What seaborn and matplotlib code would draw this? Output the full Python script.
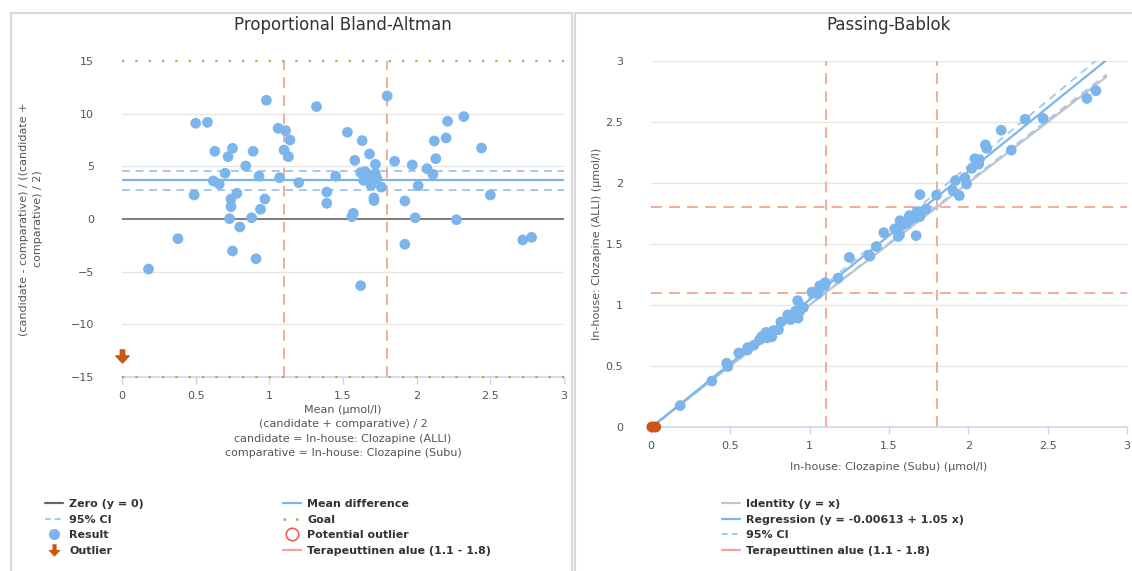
import matplotlib.pyplot as plt
import matplotlib.lines as mlines
import matplotlib.ticker as ticker
from matplotlib.patches import Rectangle
from matplotlib.path import Path
import numpy as np
import pandas as pd
import seaborn as sns

sns.set_theme(style="white")
plt.rcParams["font.family"] = ["DejaVu Sans"]

# %% data
# Bland-Altman: mean of the two methods (umol/l) and proportional difference (%)
ba_mean = [0.18, 0.38, 0.49, 0.50, 0.58, 0.62, 0.63, 0.66, 0.70, 0.72, 0.73, 0.74,
           0.74, 0.75, 0.75, 0.78, 0.80, 0.84, 0.88, 0.89, 0.91, 0.93, 0.94, 0.97,
           0.98, 1.06, 1.07, 1.10, 1.11, 1.13, 1.14, 1.20, 1.32, 1.39, 1.39, 1.45,
           1.53, 1.56, 1.57, 1.58, 1.62, 1.62, 1.63, 1.64, 1.65, 1.67, 1.68, 1.69,
           1.71, 1.71, 1.72, 1.72, 1.73, 1.76, 1.80, 1.85, 1.92, 1.92, 1.97, 1.99,
           2.01, 2.07, 2.11, 2.12, 2.13, 2.20, 2.21, 2.27, 2.32, 2.44, 2.50, 2.72,
           2.78]
ba_diff = [-4.75, -1.87, 2.28, 9.09, 9.18, 3.61, 6.43, 3.32, 4.34, 5.92, 0.03, 1.17,
           1.90, 6.71, -3.04, 2.44, -0.76, 5.03, 0.12, 6.43, -3.77, 4.06, 0.92, 1.90,
           11.27, 8.61, 3.92, 6.55, 8.39, 5.92, 7.50, 3.45, 10.67, 2.56, 1.49, 4.06,
           8.23, 0.22, 0.54, 5.57, -6.33, 4.40, 7.44, 3.67, 4.50, 4.06, 6.17, 3.19,
           1.75, 2.00, 5.19, 4.30, 3.84, 3.03, 11.68, 5.48, 1.71, -2.40, 5.13, 0.12,
           3.16, 4.78, 4.24, 7.41, 5.73, 7.69, 9.28, -0.07, 9.72, 6.74, 2.28, -1.99,
           -1.74]

# outliers near zero concentration (off the Bland-Altman scale)
out_subu = [0.005, 0.02, 0.03]
out_alli = [0.0, 0.0, 0.0]

mean_diff = 3.74
mean_ci = [2.78, 4.60]
goal = [-15, 15]
ther_range = [1.1, 1.8]

# Passing-Bablok fit
reg_b0, reg_b1 = -0.00613, 1.05
ci_low = (-0.004, 1.008)
ci_high = (-0.012, 1.075)
line_x = [0.0, 2.87]

xticks = [0, 0.5, 1, 1.5, 2, 2.5, 3]
yticks_ba = [-15, -10, -5, 0, 5, 10, 15]
yticks_pb = [0, 0.5, 1, 1.5, 2, 2.5, 3]

# %% colours
blue = "#7cb5ec"
blue_ci = "#a3c9f0"
orange = "#cc5511"
salmon = "#f2a68f"
green = "#90b860"
grid_c = "#e6e6e6"
axis_c = "#ccd6eb"
text_c = "#555555"

# candidate (ALLI) and comparative (Subu) from the proportional differences
m = np.array(ba_mean)
d = np.array(ba_diff)
pb = pd.DataFrame({"subu": m * (1 - d / 200), "alli": m * (1 + d / 200)})
ba = pd.DataFrame({"mean": m, "diff": d})

o_s = np.array(out_subu)
o_a = np.array(out_alli)
out_mean = (o_s + o_a) / 2
out_diff = np.clip((o_a - o_s) / np.maximum(out_mean, 1e-9) * 100, -13, 13)

W, H = 1132, 571


def px_rect(x0, y0, x1, y1):
    return [x0 / W, 1 - y1 / H, (x1 - x0) / W, (y1 - y0) / H]


arrow = Path([(-0.2, 0.6), (0.2, 0.6), (0.2, 0.05), (0.6, 0.05), (0.0, -0.6),
              (-0.6, 0.05), (-0.2, 0.05), (-0.2, 0.6)], closed=True)
ther_dash = (0, (6, 4))

fig = plt.figure(figsize=(W / 100, H / 100), dpi=100)
fig.patch.set_facecolor("white")

# panel frames
fig.add_artist(Rectangle((11 / W, -0.05), (572 - 11) / W, 1.05 - 13 / H,
                         transform=fig.transFigure, fill=False, ec="#d9d9d9", lw=1.5))
fig.add_artist(Rectangle((575 / W, -0.05), 0.6, 1.05 - 13 / H,
                         transform=fig.transFigure, fill=False, ec="#d9d9d9", lw=1.5))

axL = fig.add_axes(px_rect(122, 61, 564, 377))
axR = fig.add_axes(px_rect(651, 61, 1127, 427))

# %% Proportional Bland-Altman
for y in yticks_ba:
    if y not in (0, -15, 15):
        axL.axhline(y, color=grid_c, lw=1, zorder=0)
axL.axhline(0, color="#666666", lw=1.2, zorder=1)
for g in goal:
    axL.axhline(g, color=green, lw=1.6, ls=(0, (1, 5)), zorder=3, clip_on=False)
axL.axhline(mean_diff, color=blue, lw=1.6, zorder=1)
for c in mean_ci:
    axL.axhline(c, color=blue_ci, lw=1.4, ls=(0, (4, 3)), zorder=1)
for t in ther_range:
    axL.axvline(t, color=salmon, lw=1.3, ls=ther_dash, zorder=1)

sns.scatterplot(data=ba, x="mean", y="diff", ax=axL, color=blue, s=60,
                edgecolor="none", zorder=3, legend=False)
axL.scatter(out_mean[:1], out_diff[:1], marker=arrow, s=90, color=orange, zorder=4,
            clip_on=False)

axL.set_xlim(0, 3)
axL.set_ylim(-15, 15)
axL.set_xticks(xticks)
axL.set_yticks(yticks_ba)
axL.xaxis.set_major_formatter(ticker.FuncFormatter(lambda v, p: f"{v:g}"))
axL.set_xlabel("")
axL.set_ylabel("")
axL.set_title("Proportional Bland-Altman", fontsize=12, color="#333333", pad=22)

# %% Passing-Bablok
for y in yticks_pb[1:]:
    axR.axhline(y, color=grid_c, lw=1, zorder=0)
lx = np.array(line_x)
sns.lineplot(x=lx, y=lx, ax=axR, color="#c4c4c4", lw=1.6, zorder=2)
sns.lineplot(x=lx, y=ci_low[0] + ci_low[1] * lx, ax=axR, color=blue_ci, lw=1.4,
             zorder=2).lines[-1].set_linestyle((0, (4, 3)))
sns.lineplot(x=lx, y=ci_high[0] + ci_high[1] * lx, ax=axR, color=blue_ci, lw=1.4,
             zorder=2).lines[-1].set_linestyle((0, (4, 3)))
sns.lineplot(x=lx, y=reg_b0 + reg_b1 * lx, ax=axR, color=blue, lw=1.6, zorder=2)
for t in ther_range:
    axR.axvline(t, color=salmon, lw=1.3, ls=ther_dash, zorder=1)
    axR.axhline(t, color=salmon, lw=1.3, ls=ther_dash, zorder=1)

sns.scatterplot(data=pb, x="subu", y="alli", ax=axR, color=blue, s=60,
                edgecolor="none", zorder=3, legend=False)
axR.scatter(o_s, o_a, s=60, color=orange, edgecolor="none", zorder=4, clip_on=False)

axR.set_xlim(0, 3)
axR.set_ylim(0, 3)
axR.set_xticks(xticks)
axR.set_yticks(yticks_pb)
for a in (axR.xaxis, axR.yaxis):
    a.set_major_formatter(ticker.FuncFormatter(lambda v, p: f"{v:g}"))
axR.set_xlabel("")
axR.set_ylabel("")
axR.set_title("Passing-Bablok", fontsize=12, color="#333333", pad=22)

for ax in (axL, axR):
    for s in ("top", "right", "left"):
        ax.spines[s].set_visible(False)
    ax.spines["bottom"].set_color(axis_c)
    ax.spines["bottom"].set_linewidth(1.2)
    ax.tick_params(axis="x", bottom=True, length=5, width=1, color=axis_c,
                   labelsize=8, labelcolor=text_c, pad=5)
    ax.tick_params(axis="y", left=False, labelsize=8, labelcolor=text_c, pad=14)
    ax.grid(False)

# %% axis titles
fig.text(31 / W, 1 - 219 / H, "(candidate - comparative) / ((candidate +\ncomparative) / 2)",
         rotation=90, ha="center", va="center", fontsize=8, color=text_c,
         linespacing=1.5)
fig.text(343 / W, 1 - 405 / H,
         "Mean (µmol/l)\n(candidate + comparative) / 2\n"
         "candidate = In-house: Clozapine (ALLI)\ncomparative = In-house: Clozapine (Subu)",
         ha="center", va="top", fontsize=8, color=text_c, linespacing=1.55)
fig.text(889 / W, 1 - 467 / H, "In-house: Clozapine (Subu) (µmol/l)",
         ha="center", va="center", fontsize=8, color=text_c)
fig.text(597 / W, 1 - 244 / H, "In-house: Clozapine (ALLI) (µmol/l)",
         rotation=90, ha="center", va="center", fontsize=8, color=text_c)

# %% legends
leg_kw = dict(loc="upper left", frameon=False, prop=dict(weight="bold", size=8),
              labelcolor="#333333", handlelength=1.6, handletextpad=0.6,
              labelspacing=0.5, borderpad=0, borderaxespad=0)


def line_h(label, color, ls="-", lw=1.6):
    return mlines.Line2D([], [], color=color, ls=ls, lw=lw, label=label)


left_col1 = [
    line_h("Zero (y = 0)", "#666666"),
    line_h("95% CI", blue_ci, ls=(0, (3, 2)), lw=1.4),
    mlines.Line2D([], [], ls="none", marker="o", ms=8, color=blue, mec="none", label="Result"),
    mlines.Line2D([], [], ls="none", marker=arrow, ms=9, color=orange, mec="none", label="Outlier"),
]
left_col2 = [
    line_h("Mean difference", blue),
    mlines.Line2D([], [], ls=(0, (1, 4)), lw=1.8, color=green, label="Goal"),
    mlines.Line2D([], [], ls="none", marker="o", ms=9, mfc="none", mec="#f45b5b",
                  mew=1.2, label="Potential outlier"),
    line_h("Terapeuttinen alue (1.1 - 1.8)", salmon),
]
right_col = [
    line_h("Identity (y = x)", "#c4c4c4"),
    line_h(f"Regression (y = {reg_b0:g} + {reg_b1:g} x)", blue),
    line_h("95% CI", blue_ci, ls=(0, (3, 2)), lw=1.4),
    line_h("Terapeuttinen alue (1.1 - 1.8)", salmon),
]
fig.legend(handles=left_col1, bbox_to_anchor=(45 / W, 1 - 499 / H), **leg_kw)
fig.legend(handles=left_col2, bbox_to_anchor=(283 / W, 1 - 499 / H), **leg_kw)
fig.legend(handles=right_col, bbox_to_anchor=(722 / W, 1 - 499 / H), **leg_kw)

fig.savefig("out.png", dpi=100, facecolor="white")
